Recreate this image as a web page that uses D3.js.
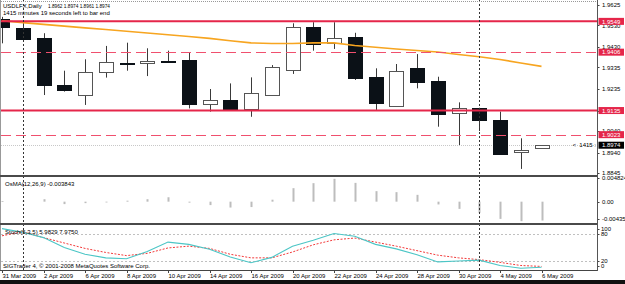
<!DOCTYPE html>
<html>
<head>
<meta charset="utf-8">
<script src="https://cdn.jsdelivr.net/npm/d3@7"></script>
<style>
  html, body { margin: 0; padding: 0; background: #fff; }
  svg { display: block; }
  text { font-family: "Liberation Sans", Arial, sans-serif; font-size: 6px; fill: #000; }
</style>
</head>
<body>
<svg id="chart" width="625" height="284"></svg>
<script>
// Chart data
const dates = ["31 Mar 2009", "1 Apr 2009", "2 Apr 2009", "3 Apr 2009", "6 Apr 2009", "7 Apr 2009",
  "8 Apr 2009", "9 Apr 2009", "10 Apr 2009", "13 Apr 2009", "14 Apr 2009", "15 Apr 2009",
  "16 Apr 2009", "17 Apr 2009", "20 Apr 2009", "21 Apr 2009", "22 Apr 2009", "23 Apr 2009",
  "24 Apr 2009", "27 Apr 2009", "28 Apr 2009", "29 Apr 2009", "30 Apr 2009", "1 May 2009",
  "4 May 2009", "5 May 2009", "6 May 2009"];

const opens  = [1.9559, 1.9518, 1.9470, 1.9254, 1.9207, 1.9313, 1.9357, 1.9354, 1.9365, 1.9370, 1.9164, 1.9184, 1.9141, 1.9210,
  1.9320, 1.9524, 1.9450, 1.9478, 1.9292, 1.9159, 1.9331, 1.9272, 1.9122, 1.9145, 1.9091, 1.8941, 1.8962];
const highs  = [1.9570, 1.9545, 1.9494, 1.9320, 1.9373, 1.9435, 1.9450, 1.9424, 1.9413, 1.9404, 1.9235, 1.9261, 1.9289, 1.9346,
  1.9540, 1.9545, 1.9545, 1.9496, 1.9331, 1.9351, 1.9397, 1.9292, 1.9173, 1.9148, 1.9130, 1.9006, 1.8974];
const lows   = [1.9447, 1.9455, 1.9207, 1.9223, 1.9161, 1.9288, 1.9320, 1.9295, 1.9357, 1.9145, 1.9130, 1.9138, 1.9106, 1.9210,
  1.9305, 1.9413, 1.9421, 1.9277, 1.9138, 1.9159, 1.9238, 1.9060, 1.8975, 1.9040, 1.8930, 1.8864, 1.8961];
const closes = [1.9524, 1.9466, 1.9254, 1.9230, 1.9313, 1.9359, 1.9351, 1.9365, 1.9359, 1.9164, 1.9184, 1.9142, 1.9215, 1.9339,
  1.9521, 1.9447, 1.9473, 1.9288, 1.9171, 1.9320, 1.9266, 1.9119, 1.9145, 1.9088, 1.8933, 1.8952, 1.8974];

const maValues = [1.9552, 1.9543, 1.9535, 1.9527, 1.9519, 1.9511, 1.9503, 1.9495, 1.9487, 1.9479, 1.9470, 1.9459, 1.9449,
  1.9446, 1.9446, 1.9449, 1.9449, 1.9437, 1.9429, 1.9421, 1.9414, 1.9407, 1.9395, 1.9385, 1.9372, 1.9356, 1.9340];

const osmaValues = [0.0001, 0.0002, 0.0005, -0.0005, -0.0003, -0.0001, 0.0002, 0.0005, 0.0009, -0.0002, -0.0007, -0.0012,
  -0.0011, 0.0004, 0.00275, 0.00377, 0.00465, 0.00383, 0.00214, 0.00194, 0.00139, -0.00057, -0.00147, -0.00228,
  -0.00351, -0.00398, -0.003843];

const stochMain   = [92, 84, 72, 50, 35, 27, 25, 41, 62, 57, 46, 29, 16, 28, 53, 66, 81, 75, 57, 47, 34, 18, 20, 22, 10, 4, 5.9829];
const stochSignal = [76, 85, 72, 60, 48, 39, 32, 37, 49, 53, 48, 35, 27, 27, 40, 56, 67, 71, 62, 53, 43, 33, 27, 23, 17, 10, 7.975];

const priceTicks = [1.9625, 1.9530, 1.9430, 1.9335, 1.9235, 1.9135, 1.9040, 1.8940, 1.8845];
const solidLevels = [1.9549, 1.9135];
const dashedLevels = [1.9406, 1.9023];
const bidPrice = 1.8974;
const separatorDates = ["1 Apr 2009", "1 May 2009"];

const osmaTicks = [0.004824, 0, -0.00435];
const osmaTickLabels = ["0.004824", "0.00", "-0.004350"];
const stochTicks = [100, 80, 20, 0];
const stochLevels = [80, 20];

const headerSymbol = "USDLFX,Daily";
const headerQuotes = "1.8962 1.8974 1.8961 1.8974";
const timerText = "1415 minutes 19 seconds left to bar end";
const osmaTitle = "OsMA(12,26,9) -0.003843";
const stochTitle = "Stoch(5,3,5) 5.9829 7.9750";
const copyrightText = "SIGTrader 4, \u00a9 2001-2008 MetaQuotes Software Corp.";
const countdownText = "<  1415 :";

// Layout
const width = 625, height = 284;
const plotLeft = 1, plotRight = 597.5;
const main = { top: 2, bottom: 175 };
const osma = { top: 177, bottom: 223 };
const stoch = { top: 225, bottom: 270 };

const svg = d3.select("#chart");

svg.append("rect").attr("width", width).attr("height", height).attr("fill", "#fff");

// Scales
const x = d3.scalePoint().domain(dates).range([2, 541.5]);
const y = d3.scaleLinear().domain([1.8845, 1.9625]).range([173, 5]);
const yOsma = d3.scaleLinear().domain([-0.00435, 0.004824]).range([223, 178]);
const yStoch = d3.scaleLinear().domain([0, 100]).range([270, 225]);

const defs = svg.append("defs");
defs.append("clipPath").attr("id", "clipMain")
  .append("rect").attr("x", plotLeft).attr("y", main.top)
  .attr("width", plotRight - plotLeft).attr("height", main.bottom - main.top);
defs.append("clipPath").attr("id", "clipStoch")
  .append("rect").attr("x", plotLeft).attr("y", stoch.top)
  .attr("width", plotRight - plotLeft).attr("height", stoch.bottom - stoch.top);

// Main panel
const gMain = svg.append("g").attr("clip-path", "url(#clipMain)");

// bid line
gMain.append("line")
  .attr("x1", plotLeft).attr("x2", plotRight)
  .attr("y1", Math.round(y(bidPrice)) + 0.5).attr("y2", Math.round(y(bidPrice)) + 0.5)
  .attr("stroke", "#c8c8c8").attr("stroke-dasharray", "1,1");

// candles
const bars = dates.map((d, i) => ({ date: d, o: opens[i], h: highs[i], l: lows[i], c: closes[i] }));

gMain.selectAll(".wick")
  .data(bars)
  .enter()
  .append("line")
  .attr("class", "wick")
  .attr("x1", d => Math.round(x(d.date)) + 0.5)
  .attr("x2", d => Math.round(x(d.date)) + 0.5)
  .attr("y1", d => y(d.h))
  .attr("y2", d => y(d.l))
  .attr("stroke", "#3a3a3a");

gMain.selectAll(".body")
  .data(bars)
  .enter()
  .append("rect")
  .attr("class", "body")
  .attr("x", d => Math.round(x(d.date)) - 7 + 0.5)
  .attr("width", 14)
  .attr("y", d => Math.round(y(Math.max(d.o, d.c))) + 0.5)
  .attr("height", d => Math.max(1, Math.round(y(Math.min(d.o, d.c)) - y(Math.max(d.o, d.c)))))
  .attr("fill", d => d.c >= d.o ? "#fff" : "#0b1117")
  .attr("stroke", d => d.c >= d.o ? "#555" : "#0b1117");

// moving average
gMain.append("path")
  .datum(maValues)
  .attr("fill", "none")
  .attr("stroke", "#f7a520")
  .attr("stroke-width", 1.6)
  .attr("d", d3.line().x((d, i) => x(dates[i])).y(d => y(d)));

// level lines
gMain.selectAll(".solid-level")
  .data(solidLevels)
  .enter()
  .append("line")
  .attr("x1", plotLeft).attr("x2", plotRight)
  .attr("y1", d => y(d)).attr("y2", d => y(d))
  .attr("stroke", "#e5264a").attr("stroke-width", 2);

gMain.selectAll(".dashed-level")
  .data(dashedLevels)
  .enter()
  .append("line")
  .attr("x1", plotLeft).attr("x2", plotRight)
  .attr("y1", d => Math.round(y(d)) + 0.5).attr("y2", d => Math.round(y(d)) + 0.5)
  .attr("stroke", "#f0506e").attr("stroke-dasharray", "10,5");

// header texts
svg.append("text").attr("x", 3).attr("y", 7.8).text(headerSymbol);
svg.append("text").attr("x", 48).attr("y", 7.8)
  .attr("textLength", 62).attr("lengthAdjust", "spacingAndGlyphs")
  .text(headerQuotes);
svg.append("text").attr("x", 3).attr("y", 15.3).text(timerText);

svg.append("text")
  .attr("x", 596).attr("y", y(bidPrice) + 2.2)
  .attr("text-anchor", "end")
  .attr("fill", "#333")
  .attr("xml:space", "preserve")
  .text(countdownText);

// right price axis
const fmt = d3.format(".4f");
svg.selectAll(".price-tick")
  .data(priceTicks)
  .enter()
  .append("line")
  .attr("x1", plotRight).attr("x2", plotRight + 2)
  .attr("y1", d => Math.round(y(d)) + 0.5).attr("y2", d => Math.round(y(d)) + 0.5)
  .attr("stroke", "#444");

svg.selectAll(".price-label")
  .data(priceTicks)
  .enter()
  .append("text")
  .attr("x", 602)
  .attr("y", d => y(d) + 2.2)
  .text(d => fmt(d));

function priceBox(value, color) {
  svg.append("rect")
    .attr("x", 598.5).attr("y", y(value) - 3.5)
    .attr("width", 25.5).attr("height", 7)
    .attr("fill", color);
  svg.append("text")
    .attr("x", 602).attr("y", y(value) + 2.2)
    .style("fill", "#fff")
    .text(fmt(value));
}
solidLevels.concat(dashedLevels).forEach(v => priceBox(v, "#e5264a"));
priceBox(bidPrice, "#000");

// OsMA panel
svg.selectAll(".osma-bar")
  .data(osmaValues)
  .enter()
  .append("rect")
  .attr("x", (d, i) => Math.round(x(dates[i])) - 0.5)
  .attr("width", 2)
  .attr("y", d => Math.min(yOsma(d), yOsma(0)))
  .attr("height", d => Math.max(0.8, Math.abs(yOsma(d) - yOsma(0))))
  .attr("fill", "#bdbdbd");

svg.append("text").attr("x", 5).attr("y", 185.8).text(osmaTitle);

osmaTicks.forEach((v, i) => {
  const ty = Math.min(Math.max(yOsma(v), 177.5), 218.5);
  svg.append("line")
    .attr("x1", plotRight).attr("x2", plotRight + 2)
    .attr("y1", Math.round(ty) + 0.5).attr("y2", Math.round(ty) + 0.5)
    .attr("stroke", "#444");
  svg.append("text").attr("x", 602).attr("y", ty + 2.2).text(osmaTickLabels[i]);
});

// Stochastic panel
const gStoch = svg.append("g").attr("clip-path", "url(#clipStoch)");

gStoch.selectAll(".stoch-level")
  .data(stochLevels)
  .enter()
  .append("line")
  .attr("x1", plotLeft).attr("x2", plotRight)
  .attr("y1", d => Math.round(yStoch(d)) + 0.5).attr("y2", d => Math.round(yStoch(d)) + 0.5)
  .attr("stroke", "#c0c0c0").attr("stroke-dasharray", "2,2");

gStoch.append("path")
  .datum(stochSignal)
  .attr("fill", "none")
  .attr("stroke", "#f23a3a")
  .attr("stroke-dasharray", "2,1.5")
  .attr("d", d3.line().x((d, i) => x(dates[i])).y(d => yStoch(d)));

gStoch.append("path")
  .datum(stochMain)
  .attr("fill", "none")
  .attr("stroke", "#4cc6c6")
  .attr("stroke-width", 1.1)
  .attr("d", d3.line().x((d, i) => x(dates[i])).y(d => yStoch(d)));

svg.append("text").attr("x", 5).attr("y", 233.5).text(stochTitle);
svg.append("text").attr("x", 3).attr("y", 268.3).text(copyrightText);

stochTicks.forEach(v => {
  const ty = Math.min(Math.max(yStoch(v), 229), 266);
  svg.append("line")
    .attr("x1", plotRight).attr("x2", plotRight + 2)
    .attr("y1", Math.round(ty) + 0.5).attr("y2", Math.round(ty) + 0.5)
    .attr("stroke", "#444");
  svg.append("text").attr("x", 601).attr("y", ty + 2.2).text(v);
});

// period separators
svg.selectAll(".separator")
  .data(separatorDates)
  .enter()
  .append("line")
  .attr("x1", d => Math.round(x(d)) + 0.5).attr("x2", d => Math.round(x(d)) + 0.5)
  .attr("y1", 0).attr("y2", stoch.bottom)
  .attr("stroke", "#333").attr("stroke-dasharray", "2,2");

// frames and panel separators
svg.append("line").attr("x1", plotLeft).attr("x2", plotRight).attr("y1", 1.5).attr("y2", 1.5)
  .attr("stroke", "#999").attr("stroke-dasharray", "1,1");
svg.append("line").attr("x1", 0.5).attr("x2", 0.5).attr("y1", 0).attr("y2", stoch.bottom)
  .attr("stroke", "#999");
[main.bottom + 1, osma.bottom + 1].forEach(sy => {
  svg.append("rect").attr("x", 0).attr("y", sy - 1).attr("width", plotRight).attr("height", 2)
    .attr("fill", "#4a4a4a");
});
svg.append("line").attr("x1", 0).attr("x2", plotRight).attr("y1", stoch.bottom + 0.5).attr("y2", stoch.bottom + 0.5)
  .attr("stroke", "#444");
svg.append("line").attr("x1", plotRight).attr("x2", plotRight).attr("y1", 0).attr("y2", stoch.bottom + 1)
  .attr("stroke", "#555");

// time axis
const labelDates = dates.filter((d, i) => i % 2 === 0);
svg.selectAll(".time-tick")
  .data(labelDates)
  .enter()
  .append("line")
  .attr("x1", d => Math.round(x(d)) + 0.5).attr("x2", d => Math.round(x(d)) + 0.5)
  .attr("y1", stoch.bottom).attr("y2", stoch.bottom + 3)
  .attr("stroke", "#444");

svg.selectAll(".time-label")
  .data(labelDates)
  .enter()
  .append("text")
  .attr("x", d => x(d) + 0.5)
  .attr("y", 277.6)
  .text(d => d);

svg.append("rect").attr("x", 0).attr("y", 280).attr("width", width).attr("height", 4).attr("fill", "#111");
</script>
</body>
</html>
